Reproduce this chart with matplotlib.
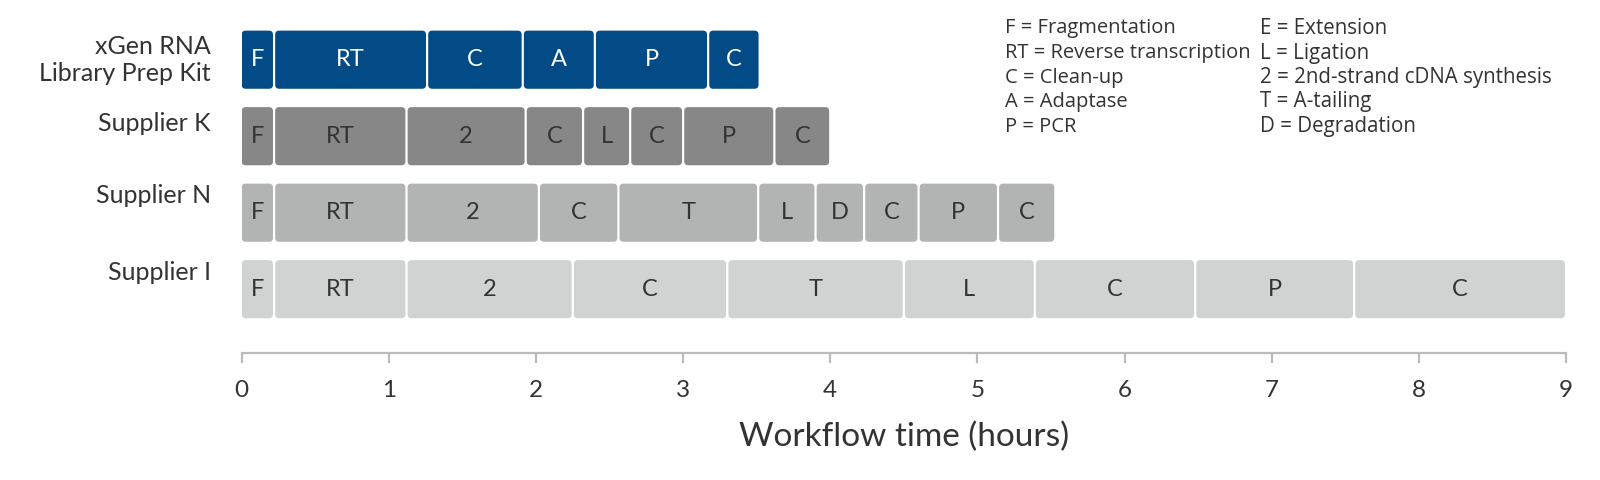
import matplotlib
matplotlib.use("Agg")
import matplotlib.pyplot as plt
from matplotlib.patches import FancyBboxPatch

# ---- data ----
row_labels = ["xGen RNA\nLibrary Prep Kit", "Supplier K", "Supplier N", "Supplier I"]

kit_steps = ["F", "RT", "C", "A", "P", "C"]
kit_hours = [0.22, 1.04, 0.65, 0.49, 0.77, 0.35]

k_steps = ["F", "RT", "2", "C", "L", "C", "P", "C"]
k_hours = [0.22, 0.90, 0.81, 0.39, 0.32, 0.36, 0.62, 0.38]

n_steps = ["F", "RT", "2", "C", "T", "L", "D", "C", "P", "C"]
n_hours = [0.22, 0.90, 0.90, 0.54, 0.95, 0.39, 0.33, 0.37, 0.54, 0.39]

i_steps = ["F", "RT", "2", "C", "T", "L", "C", "P", "C"]
i_hours = [0.22, 0.90, 1.13, 1.05, 1.20, 0.89, 1.09, 1.08, 1.44]

x_ticks = [0, 1, 2, 3, 4, 5, 6, 7, 8, 9]

legend_left = ["F = Fragmentation", "RT = Reverse transcription", "C = Clean-up",
               "A = Adaptase", "P = PCR"]
legend_right = ["E = Extension", "L = Ligation", "2 = 2nd-strand cDNA synthesis",
                "T = A-tailing", "D = Degradation"]

# ---- styles ----
row_colors = ["#024B87", "#878787", "#B2B3B3", "#D1D3D3"]
text_colors = ["white", "#333333", "#333333", "#333333"]
label_dy = [0.0, -0.17, -0.23, -0.22]
main_font = ["Lato", "DejaVu Sans"]
legend_font = ["Open Sans", "DejaVu Sans"]

W, H = 1600, 480
ax_left, ax_right = 241.7, 1566.0
ax_bottom, ax_top = 352.5, 20.5   # pixel rows from top
row0, row_step = 59.7, 76.5       # pixel centre of first row, spacing

fig = plt.figure(figsize=(16, 4.8), dpi=100)
ax = fig.add_axes([ax_left / W, (H - ax_bottom) / H,
                   (ax_right - ax_left) / W, (ax_bottom - ax_top) / H])

ax.set_xlim(0, 9)
ax.set_ylim((ax_bottom - row0) / row_step, (ax_top - row0) / row_step)

bar_h = 0.76
x_px_per_unit = (ax_right - ax_left) / 9
y_px_per_unit = row_step
gap = 2.2 / x_px_per_unit
aspect = x_px_per_unit / y_px_per_unit
rad = 4 / x_px_per_unit

all_steps = [kit_steps, k_steps, n_steps, i_steps]
all_hours = [kit_hours, k_hours, n_hours, i_hours]

for r, (steps, hours) in enumerate(zip(all_steps, all_hours)):
    start = 0.0
    for s, h in zip(steps, hours):
        x0 = start + (gap / 2 if start > 0 else 0)
        w = h - (gap / 2 if start > 0 else 0) - gap / 2
        patch = FancyBboxPatch((x0, r - bar_h / 2), w, bar_h,
                               boxstyle=f"round,pad=0,rounding_size={rad}",
                               mutation_aspect=aspect,
                               facecolor=row_colors[r], edgecolor="none")
        ax.add_patch(patch)
        ax.text(start + h / 2, r, s, ha="center", va="center",
                fontsize=17, color=text_colors[r], family=main_font)
        start += h
    ax.text(-0.21, r + label_dy[r], row_labels[r], ha="right", va="center",
            fontsize=18, color="#333333", family=main_font, linespacing=1.2)

# axis styling
for sp in ["top", "right", "left"]:
    ax.spines[sp].set_visible(False)
ax.spines["bottom"].set_color("#BBBBBB")
ax.spines["bottom"].set_linewidth(1.6)
ax.set_yticks([])
ax.set_xticks(x_ticks)
ax.set_xticklabels([str(t) for t in x_ticks], family=main_font, fontsize=17.5, color="#333333")
ax.tick_params(axis="x", length=7, width=1.6, color="#BBBBBB", pad=13)
ax.set_xlabel("Workflow time (hours)", family=main_font, fontsize=24, color="#333333", labelpad=15)

# legend text
for i, (a, b) in enumerate(zip(legend_left, legend_right)):
    yy = 1 - (28.5 + 24.5 * i) / H
    fig.text(1005 / W, yy, a, ha="left", va="center", fontsize=14.5,
             color="#333333", family=legend_font)
    fig.text(1260 / W, yy, b, ha="left", va="center", fontsize=14.8,
             color="#333333", family=legend_font)

fig.savefig("out.png", dpi=100, facecolor="white")
